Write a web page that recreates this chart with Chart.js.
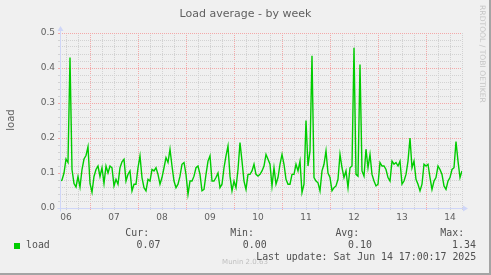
<!DOCTYPE html>
<html>
<head>
<meta charset="utf-8">
<script src="https://cdn.jsdelivr.net/npm/chart.js@4/dist/chart.umd.min.js"></script>
<style>
  html, body { margin: 0; padding: 0; background: #f0f0f0; }
  #wrap { position: relative; width: 491px; height: 275px; overflow: hidden; background: #f0f0f0; }
  #c { position: absolute; left: 0; top: 0; }
  .txt { position: absolute; white-space: pre; font-family: "DejaVu Sans", sans-serif; color: #606060; }
  .mono { font-family: "DejaVu Sans Mono", monospace; font-size: 9.9px; line-height: 12px; color: #505050; }
</style>
</head>
<body>
<div id="wrap">
  <canvas id="c" width="491" height="275"></canvas>
  <div class="txt" style="left:0;top:7px;width:491px;text-align:center;font-size:11px;line-height:13px;">Load average - by week</div>
  <div class="txt" style="left:-9px;top:114px;width:40px;text-align:center;font-size:10px;line-height:12px;transform:rotate(-90deg);">load</div>
  <div class="txt" style="left:432px;top:49px;width:100px;text-align:center;font-size:7.6px;line-height:10px;color:#c4c4c4;transform:rotate(90deg);">RRDTOOL / TOBI OETIKER</div>
  <div class="txt" style="left:195px;top:258px;width:100px;text-align:center;font-size:7px;line-height:9px;color:#c0c0c0;">Munin 2.0.63</div>
  <div id="legend"></div>
  <div style="position:absolute;left:0;top:273px;width:491px;height:2px;background:#a4a4a4;"></div>
  <div style="position:absolute;left:489px;top:0;width:2px;height:275px;background:#a4a4a4;"></div>
</div>
<script>
'use strict';

// hourly samples, first one at Jun 06 09:00
const dayLabels = ['06', '07', '08', '09', '10', '11', '12', '13', '14'];
const loadValues = [
  0.077, 0.08, 0.10, 0.14, 0.13, 0.43, 0.11, 0.07, 0.06, 0.09, 0.06, 0.11, 0.14, 0.15, 0.175, 0.07, 0.045, 0.09, 0.11, 0.12, 0.09, 0.115, 0.07, 0.12, 0.10, 0.12,
  0.115, 0.063, 0.082, 0.068, 0.115, 0.132, 0.139, 0.077, 0.096, 0.106, 0.049, 0.068, 0.068, 0.115, 0.149, 0.087, 0.058, 0.049, 0.082, 0.077, 0.11, 0.106, 0.115, 0.096, 0.068,
  0.087, 0.115, 0.144, 0.13, 0.168, 0.12, 0.077, 0.058, 0.068, 0.091, 0.125, 0.13, 0.096, 0.039, 0.077, 0.077, 0.091, 0.115, 0.12, 0.096, 0.049, 0.053, 0.096, 0.134, 0.149,
  0.077, 0.077, 0.087, 0.10, 0.058, 0.068, 0.115, 0.149, 0.177, 0.091, 0.049, 0.077, 0.058, 0.11, 0.187, 0.134, 0.077, 0.053, 0.096, 0.096, 0.106, 0.125, 0.096, 0.091, 0.096,
  0.106, 0.12, 0.153, 0.139, 0.125, 0.063, 0.115, 0.068, 0.087, 0.125, 0.153, 0.125, 0.082, 0.068, 0.068, 0.096, 0.096, 0.125, 0.106, 0.134, 0.044, 0.068, 0.25, 0.12, 0.163,
  0.435, 0.087, 0.077, 0.072, 0.049, 0.106, 0.125, 0.163, 0.10, 0.087, 0.049, 0.058, 0.063, 0.082, 0.153, 0.115, 0.087, 0.106, 0.058, 0.115, 0.12, 0.458, 0.096, 0.091, 0.41,
  0.106, 0.091, 0.168, 0.115, 0.153, 0.096, 0.077, 0.063, 0.068, 0.13, 0.12, 0.12, 0.11, 0.087, 0.077, 0.134, 0.125, 0.13, 0.12, 0.134, 0.068, 0.077, 0.096, 0.134, 0.20,
  0.115, 0.134, 0.082, 0.068, 0.049, 0.068, 0.125, 0.12, 0.125, 0.087, 0.053, 0.077, 0.087, 0.12, 0.11, 0.096, 0.063, 0.053, 0.077, 0.087, 0.11, 0.115, 0.19, 0.134, 0.087, 0.106
];
const legendHeads = ['Cur:', 'Min:', 'Avg:', 'Max:'];
const legendValues = ['0.07', '0.00', '0.10', '1.34'];
const lastUpdate = 'Last update: Sat Jun 14 17:00:17 2025';

const FIRST_NOON = 3;      // hours after start
const FIRST_MIDNIGHT = 15;
const RED = '#f3a9a9', GREY = '#d2d2d2', AXIS = '#cfd6f8';

// legend below the graph
(function buildLegend() {
  const box = document.getElementById('legend');
  const headX = [125.3, 230.2, 335.4, 440.3];
  const valX = [136.6, 242.8, 348.1, 452.1];
  let html = '<div style="position:absolute;left:14px;top:242.5px;width:6px;height:6px;background:#00cc00;"></div>';
  html += '<div class="txt mono" style="left:26px;top:239px;">load</div>';
  legendHeads.forEach((h, i) => {
    html += `<div class="txt mono" style="left:${headX[i]}px;top:227.3px;">${h}</div>`;
    html += `<div class="txt mono" style="left:${valX[i]}px;top:239px;">${legendValues[i]}</div>`;
  });
  html += `<div class="txt mono" style="left:256.2px;top:250.6px;">${lastUpdate}</div>`;
  box.innerHTML = html;
})();

const isMajorY = (v) => Math.round(v * 100) % 10 === 0;

const axisArrows = {
  id: 'axisArrows',
  afterDatasetsDraw(chart) {
    const { ctx, chartArea: a } = chart;
    const x0 = Math.round(a.left) + 0.5, y0 = Math.round(a.bottom) + 0.5;
    ctx.save();
    ctx.strokeStyle = AXIS; ctx.fillStyle = AXIS; ctx.lineWidth = 1;
    ctx.beginPath();
    ctx.moveTo(x0, y0 + 3); ctx.lineTo(x0, a.top - 2);
    ctx.moveTo(x0 - 3, y0); ctx.lineTo(a.right + 2, y0);
    ctx.stroke();
    ctx.beginPath();
    ctx.moveTo(x0, a.top - 7); ctx.lineTo(x0 - 3, a.top - 2); ctx.lineTo(x0 + 3, a.top - 2); ctx.closePath();
    ctx.moveTo(a.right + 6, y0); ctx.lineTo(a.right + 1, y0 - 3); ctx.lineTo(a.right + 1, y0 + 3); ctx.closePath();
    ctx.fill();
    ctx.restore();
  }
};

new Chart(document.getElementById('c'), {
  type: 'line',
  data: {
    datasets: [{
      data: loadValues.map((v, i) => ({ x: i, y: v })),
      borderColor: '#00cc00',
      borderWidth: 1.4,
      pointRadius: 0,
      tension: 0,
      fill: false,
    }],
  },
  options: {
    responsive: false, animation: false, devicePixelRatio: 1,
    layout: { padding: { left: 0, top: 33, right: 29, bottom: 47 } },
    plugins: { legend: { display: false }, title: { display: false }, tooltip: { enabled: false } },
    scales: {
      x: {
        type: 'linear', min: 0, max: loadValues.length - 1,
        afterFit(s) { s.height = 20; },
        afterBuildTicks(s) {
          const t = [];
          for (let h = FIRST_NOON; h <= loadValues.length - 1; h += 6) t.push({ value: h });
          s.ticks = t;
        },
        ticks: {
          autoSkip: false, maxRotation: 0, padding: 2, color: '#606060',
          font: { family: 'DejaVu Sans', size: 9 },
          callback: (v) => ((v - FIRST_NOON) % 24 === 0 ? dayLabels[(v - FIRST_NOON) / 24] : ''),
        },
        grid: {
          tickLength: 2,
          color: (c) => (c.tick && (c.tick.value - FIRST_MIDNIGHT) % 24 === 0 ? RED : GREY),
        },
        border: { display: false, dash: [1, 1] },
      },
      y: {
        min: 0, max: 0.5,
        afterFit(s) { s.width = 60; },
        afterBuildTicks(s) {
          const t = [];
          for (let k = 0; k <= 25; k++) t.push({ value: +(k * 0.02).toFixed(2) });
          s.ticks = t;
        },
        ticks: {
          autoSkip: false, padding: 3, color: '#606060',
          font: { family: 'DejaVu Sans', size: 9 },
          callback: (v) => (isMajorY(v) ? v.toFixed(1) : ''),
        },
        grid: {
          tickLength: 2,
          color: (c) => (c.tick && isMajorY(c.tick.value) ? RED : GREY),
        },
        border: { display: false, dash: [1, 1] },
      },
    },
  },
  plugins: [axisArrows],
});
</script>
</body>
</html>
